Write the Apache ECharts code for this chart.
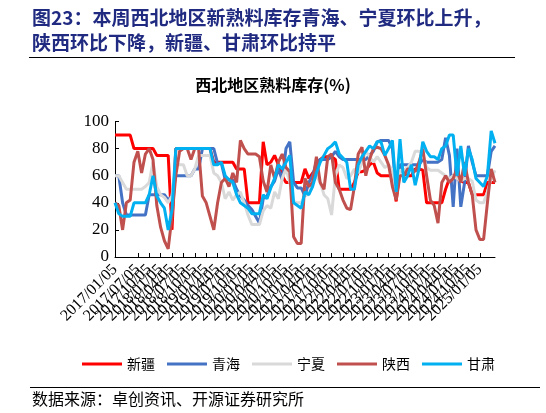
<!DOCTYPE html>
<html>
<head>
<meta charset="utf-8">
<script src="https://cdn.jsdelivr.net/npm/echarts@6/dist/echarts.min.js"></script>
<style>
html,body{margin:0;padding:0;background:#fff;}
#chart{width:546px;height:413px;}
</style>
</head>
<body>
<div id="chart"></div>
<script>
// Monthly categories 2017/01/05 .. 2025/05/05
const categories = [];
for (let y = 2017; y <= 2025; y++) {
  for (let m = 1; m <= 12; m++) {
    if (y === 2025 && m > 5) break;
    categories.push(y + '/' + (m < 10 ? '0' + m : m) + '/05');
  }
}
const seriesNames = ['新疆', '青海', '宁夏', '陕西', '甘肃'];
const xinjiang = [
  90,90,90,90,90,80,80,80,80,80,
  80,75,75,75,75,20,80,80,80,80,
  80,80,80,80,80,80,70,70,70,70,
  70,70,65,65,65,40,40,40,40,85,
  68,70,75,68,60,55,55,55,55,55,
  65,58,62,65,72,74,74,74,72,50,
  50,50,50,55,63,63,64,68,70,62,
  60,60,60,60,41,66,62,60,60,65,
  65,64,40,40,40,40,40,50,58,60,
  58,56,55,55,46,46,46,46,55,55,
  55];
const qinghai = [
  60,60,40,31,31,31,31,31,31,46,
  46,46,46,46,42,45,60,60,60,60,
  60,65,65,80,80,80,80,69,69,57,
  57,57,50,45,42,38,35,30,25,43,
  45,52,56,65,57,80,85,55,51,51,
  45,55,60,70,72,72,72,74,78,74,
  72,72,72,72,72,72,72,75,78,85,
  86,86,86,80,48,68,68,68,68,68,
  68,72,70,70,70,70,72,88,75,37,
  80,37,55,82,70,60,60,60,60,78,
  82];
const ningxia = [
  60,60,55,50,50,50,50,50,52,55,
  70,52,46,44,40,45,68,68,68,60,
  60,65,75,75,75,75,62,60,55,43,
  48,42,46,48,40,31,24,24,24,34,
  38,36,48,43,58,65,55,41,40,40,
  46,46,55,60,55,46,43,31,60,68,
  66,58,60,65,62,70,78,74,70,74,
  70,66,68,64,46,64,64,66,70,78,
  78,76,66,64,64,64,62,60,58,60,
  58,56,58,58,56,42,40,40,48,58,
  64];
const shaanxi = [
  40,38,20,40,42,70,78,62,76,80,
  72,38,22,12,6,30,60,78,80,80,
  72,80,80,45,40,30,20,40,55,58,
  52,62,55,86,80,76,76,76,74,56,
  48,68,58,70,76,66,63,15,10,10,
  58,52,55,74,55,50,74,76,55,50,
  42,36,35,52,76,81,60,72,80,81,
  80,75,68,52,42,60,60,65,65,63,
  70,80,60,42,38,25,55,60,55,58,
  65,55,70,55,46,20,13,13,40,65,
  55];
const gansu = [
  40,32,30,30,30,40,40,40,40,46,
  60,45,40,36,20,35,80,80,80,80,
  80,80,80,80,80,80,68,68,70,60,
  57,55,46,40,38,36,32,32,32,46,
  43,51,58,68,65,70,75,40,38,36,
  48,46,52,62,70,75,80,82,85,76,
  73,70,50,50,68,74,78,82,80,85,
  85,75,80,86,48,87,55,60,68,53,
  65,85,78,74,74,72,80,82,90,90,
  60,82,60,80,72,58,55,52,60,93,
  84];
const yTicks = [0, 20, 40, 60, 80, 100];
const colors = ['#FF0000', '#4472C4', '#D9D9D9', '#C0504D', '#00B0F0'];
const allData = [xinjiang, qinghai, ningxia, shaanxi, gansu];

const chart = echarts.init(document.getElementById('chart'));
const serif = '"Liberation Serif", "Times New Roman", serif';
const cjk = '"Noto Sans CJK SC", sans-serif';
const quarterly = (idx) => idx % 3 === 0;

chart.setOption({
  animation: false,
  backgroundColor: '#fff',
  color: colors,
  graphic: [
    { type: 'text', left: 32, top: 8,
      style: { text: '图23：本周西北地区新熟料库存青海、宁夏环比上升，', font: 'bold 19px ' + cjk, fill: '#1F2A80' } },
    { type: 'text', left: 32, top: 33,
      style: { text: '陕西环比下降，新疆、甘肃环比持平', font: 'bold 19px ' + cjk, fill: '#1F2A80' } },
    { type: 'line', shape: { x1: 29, y1: 57.5, x2: 515, y2: 57.5 }, style: { stroke: '#000', lineWidth: 1 } },
    { type: 'text', left: 'center', top: 77,
      style: { text: '西北地区熟料库存(%)', font: 'bold 16px ' + cjk, fill: '#000' } },
    { type: 'line', shape: { x1: 30, y1: 387.5, x2: 540, y2: 387.5 }, style: { stroke: '#000', lineWidth: 1 } },
    { type: 'text', left: 32, top: 391,
      style: { text: '数据来源：卓创资讯、开源证券研究所', font: '16px ' + cjk, fill: '#000' } }
  ],
  legend: {
    data: seriesNames,
    left: 77, top: 352,
    icon: 'rect',
    itemWidth: 40, itemHeight: 3, itemGap: 12,
    textStyle: { fontFamily: cjk, fontSize: 14, color: '#000' }
  },
  grid: { left: 115, right: 51, top: 121.5, bottom: 156, containLabel: false },
  xAxis: {
    type: 'category',
    data: categories,
    boundaryGap: false,
    axisLine: { lineStyle: { color: '#000', width: 1 } },
    axisTick: { inside: true, length: 4, interval: quarterly, lineStyle: { color: '#000' } },
    axisLabel: { interval: quarterly, rotate: 45, margin: 10, hideOverlap: false, showMinLabel: true, showMaxLabel: false,
      fontFamily: serif, fontSize: 16, color: '#000' },
    splitLine: { show: false }
  },
  yAxis: {
    type: 'value',
    min: yTicks[0], max: yTicks[yTicks.length - 1], interval: 20,
    axisLine: { show: true, lineStyle: { color: '#000', width: 1 } },
    axisTick: { show: true, inside: true, length: 4, lineStyle: { color: '#000' } },
    axisLabel: { fontFamily: serif, fontSize: 17, color: '#000', margin: 6 },
    splitLine: { show: false }
  },
  series: seriesNames.map((n, i) => ({
    name: n,
    type: 'line',
    data: allData[i],
    symbol: 'none',
    lineStyle: { width: 3, color: colors[i] },
    itemStyle: { color: colors[i] }
  }))
});
</script>
</body>
</html>
